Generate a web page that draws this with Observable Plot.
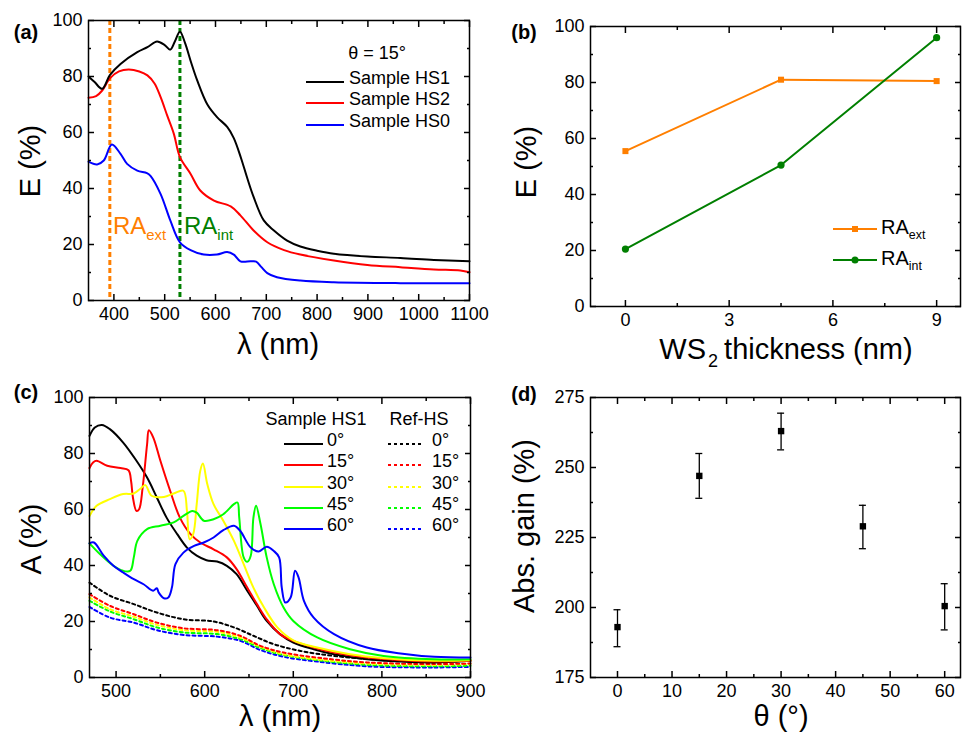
<!DOCTYPE html>
<html><head><meta charset="utf-8">
<script src="https://cdn.jsdelivr.net/npm/d3@7"></script>
<script src="https://cdn.jsdelivr.net/npm/@observablehq/plot@0.6"></script>
<style>
body{margin:0;background:#fff;}
#fig{position:relative;width:962px;height:734px;overflow:hidden;background:#fff;font-family:"Liberation Sans",Arial,Helvetica,sans-serif;color:#000;}
.panel{position:absolute;}
.panel svg{overflow:visible;display:block;}
.t{position:absolute;white-space:nowrap;line-height:1;}
.c{transform:translate(-50%,-50%);}
.r{transform:translate(-50%,-50%) rotate(-90deg);}
.l{transform:translate(0,-50%);}
.lab{font-weight:bold;font-size:20px;}
.ax{font-size:29px;}
.lg{font-size:18px;}
.sub{font-size:0.62em;position:relative;top:0.38em;}
.sw{position:absolute;}
</style></head><body>
<div id="fig"></div>
<script>
// ---------- DATA ----------
// Panel (a): E (%) vs wavelength (nm), theta = 15°
const aHS1 = [[350,80],[362,78],[377,75.6],[392,80.5],[413,84.5],[446,88.7],[466,90.5],[485,92.5],[500,91.2],[511,89.6],[520,92.5],[530,96],[540,92],[552,85],[564,78.6],[584,70],[603,65.5],[623,62],[636,58],[650,51],[662,44],[675,37],[695,28.6],[715,25],[741,21.4],[767,19.3],[800,17.8],[833,16.7],[899,15.7],[964,15.2],[1030,14.5],[1100,14]];
const aHS2 = [[350,72.4],[365,73],[377,75],[393,79.5],[410,81.8],[429,82.5],[450,81.8],[466,80.4],[480,77.5],[492,72.6],[505,66],[518,59.5],[530,51.2],[551,45.2],[570,39.3],[597,35.7],[630,33.6],[649,30.4],[675,25],[702,20.8],[735,18],[767,16.4],[833,14.3],[899,12.7],[964,11.9],[1030,11.1],[1082,10.7],[1100,10.1]];
const aHS0 = [[350,49.6],[367,48.6],[380,50],[396,55.7],[413,52.4],[426,48.8],[446,46.4],[465,45.5],[472,44.5],[492,38],[511,28.6],[530,20.8],[551,18],[577,16.4],[603,16.4],[623,17.3],[636,16.4],[649,14],[669,14],[680,13.9],[690,12],[702,9.8],[721,8.3],[767,7.1],[833,6.5],[964,6.2],[1100,6.2]];
const aNames = ["Sample HS1","Sample HS2","Sample HS0"];
const raSubs = ["ext", "int"];
const raWavelengths = [392, 530];

// Panel (b): E (%) vs WS2 thickness (nm)
const bThickness = [0, 4.5, 9];
const bRAext = [55.5, 81, 80.5];
const bRAint = [20.5, 50.5, 96];

// Panel (c): A (%) vs wavelength (nm)
const cAngles = ["0°","15°","30°","45°","60°"];
const c0 = [[470,86.3],[476,89.3],[484,90.2],[493,88.7],[508,83.9],[523,77.4],[535,71.4],[546,64.3],[557,57.1],[569,51.2],[580,46.4],[591,43.5],[602,41.9],[614,41.4],[625,39.9],[636,36.9],[648,31],[659,25.6],[670,20.2],[685,15.5],[700,12.5],[723,10.1],[746,8.3],[783,6.5],[821,5.7],[859,5.4],[900,6]];
const c15 = [[470,74.8],[474,76.8],[478,77.4],[490,75.6],[505,74.8],[514,74],[517,70],[519,64.3],[523,59.5],[526,60.1],[530,67.9],[535,83.3],[537,88.3],[542,85.7],[550,77.4],[561,66.7],[572,57.1],[584,51.2],[595,48.2],[610,45.8],[625,42.9],[636,38.7],[648,32.1],[659,26.2],[670,20.8],[685,15.5],[700,13.1],[723,10.7],[746,8.9],[783,7.1],[821,6.2],[859,5.7],[900,6]];
const c30 = [[470,57.7],[478,61.3],[493,63.7],[508,65.5],[520,65.7],[527,67.3],[533,68.7],[540,64.9],[554,64.5],[565,65.7],[576,66.7],[580,59.5],[583,49.4],[587,51.2],[591,61.9],[595,73.8],[598,76.4],[603,69],[610,61.9],[621,56],[633,48.8],[644,40.5],[655,32.1],[667,25],[682,17.9],[700,13.3],[727,10.7],[764,8.3],[802,6.9],[859,6],[900,6.2]];
const c45 = [[470,47.9],[482,44],[497,39.9],[508,38.1],[516,38.1],[520,42.9],[524,48.8],[535,53],[550,54.2],[565,55.4],[576,57.7],[586,59.5],[591,58.9],[599,56],[610,56.5],[621,58.3],[633,61.9],[637,62.5],[639,57.1],[644,42.9],[648,41.3],[652,43.5],[655,57.1],[658,61.3],[663,54.8],[670,42.9],[678,33.3],[689,25],[700,20.2],[727,14.3],[764,10.1],[802,7.7],[859,6.5],[900,6.5]];
const c60 = [[470,47.9],[475,48.2],[486,43.5],[497,39.9],[508,37.5],[520,35.1],[531,33.3],[542,31],[546,31.9],[548,30.4],[554,28.3],[559,28.6],[563,32.1],[567,40.5],[576,44.6],[588,47],[599,48.2],[610,50],[621,52.6],[633,54.2],[640,52.4],[652,46.4],[661,45],[670,46.7],[678,45.2],[684,42.9],[687,32.1],[691,26.8],[697,28.6],[702,38.1],[706,35.7],[712,27.4],[723,21.4],[746,15.5],[783,10.7],[821,8.6],[859,7.4],[900,7.1]];
const r0 = [[470,33.9],[493,29.2],[520,26.2],[546,23.2],[576,20.8],[610,20],[633,17.9],[655,14.9],[678,11.9],[708,9.5],[746,7.7],[802,6.2],[859,5.7],[900,6]];
const r15 = [[470,29.8],[493,25.6],[520,22.6],[546,19.6],[576,17.6],[614,16.9],[640,14.9],[663,11.3],[689,8.9],[727,7.1],[783,5.4],[859,4.8],[900,5]];
const r30 = [[470,28.6],[493,24.4],[520,21.7],[546,18.8],[576,16.9],[614,16.3],[640,14.3],[663,11],[689,8.3],[727,6.5],[783,5],[859,4.5],[900,4.8]];
const r45 = [[470,27.4],[493,23.6],[520,20.8],[546,17.9],[576,16.1],[614,15.5],[640,13.7],[663,10.5],[689,8],[727,6.2],[783,4.5],[859,4],[900,4.2]];
const r60 = [[470,25.2],[493,21.4],[520,19.6],[546,16.9],[576,15.2],[614,14.6],[640,13.1],[663,9.8],[689,7.4],[727,5.7],[783,4],[859,3.6],[900,3.8]];

// Panel (d): Abs. gain (%) vs theta (°)
const dTheta = [0, 15, 30, 45, 60];
const dGain = [193, 247, 263, 229, 200.5];
const dLow = [186, 239, 256.3, 221, 192];
const dHigh = [199.2, 255, 269.4, 236.5, 208.5];

// ---------- STYLE ----------
const FONT = '"Liberation Sans", Arial, Helvetica, sans-serif';
const aColors = ["#000000", "#ff0000", "#0000ff"];
const raColors = ["#ff7f00", "#007f00"];
const cColors = ["#000000", "#ff0000", "#ffff00", "#00ff00", "#0000ff"];

const fig = document.getElementById("fig");
const range = (a, b, s) => d3.range(a, b + s / 2, s);

function frameAxes(xMaj, xMin, yMaj, yMin) {
  const s = {strokeWidth: 1.5, label: null};
  const blank = () => "";
  const fmt = d => `${d}`;
  return [
    Plot.axisX(xMaj, {...s, anchor: "bottom", tickSize: -6, tickPadding: 13, tickFormat: fmt}),
    Plot.axisX(xMin, {...s, anchor: "bottom", tickSize: -3, tickFormat: blank}),
    Plot.axisX(xMaj, {...s, anchor: "top", tickSize: -6, tickFormat: blank}),
    Plot.axisX(xMin, {...s, anchor: "top", tickSize: -3, tickFormat: blank}),
    Plot.axisY(yMaj, {...s, anchor: "left", tickSize: -6, tickPadding: 12, tickFormat: fmt}),
    Plot.axisY(yMin, {...s, anchor: "left", tickSize: -3, tickFormat: blank}),
    Plot.axisY(yMaj, {...s, anchor: "right", tickSize: -6, tickFormat: blank}),
    Plot.axisY(yMin, {...s, anchor: "right", tickSize: -3, tickFormat: blank}),
    Plot.frame({strokeWidth: 1.5})
  ];
}

function addPanel(left, top, opts) {
  const div = document.createElement("div");
  div.className = "panel";
  div.style.left = left + "px";
  div.style.top = top + "px";
  const svg = Plot.plot({
    ...opts,
    style: {fontSize: "18px", fontFamily: FONT, overflow: "visible", background: "transparent", color: "#000"}
  });
  div.appendChild(svg);
  fig.appendChild(div);
}

function text(html, x, y, cls, style = "") {
  const d = document.createElement("div");
  d.className = "t " + cls;
  d.style.cssText = `left:${x}px;top:${y}px;${style}`;
  d.innerHTML = html;
  fig.appendChild(d);
}

function swatch(x1, x2, y, color, dash, marker) {
  const w = x2 - x1;
  let m = "";
  if (marker === "square") m = `<rect x="${w/2-3}" y="2" width="6" height="6" fill="${color}"/>`;
  if (marker === "circle") m = `<circle cx="${w/2}" cy="5" r="3.5" fill="${color}"/>`;
  const d = document.createElement("div");
  d.className = "sw";
  d.style.cssText = `left:${x1}px;top:${y-5}px;`;
  d.innerHTML = `<svg width="${w}" height="10"><line x1="0" y1="5" x2="${w}" y2="5" stroke="${color}" stroke-width="2" ${dash ? `stroke-dasharray="${dash}"` : ""}/>${m}</svg>`;
  fig.appendChild(d);
}

const px = d => d[0], py = d => d[1];

// ---------- PANEL (a) ----------
addPanel(0, 0, {
  width: 480, height: 340,
  marginLeft: 88, marginRight: 11, marginTop: 20, marginBottom: 40,
  x: {domain: [350, 1100]},
  y: {domain: [0, 100]},
  marks: [
    Plot.ruleX(raWavelengths, {stroke: (d, i) => raColors[i], strokeWidth: 3, strokeDasharray: "5,3"}),
    Plot.line(aHS0, {x: px, y: py, stroke: aColors[2], strokeWidth: 2, curve: "catmull-rom"}),
    Plot.line(aHS2, {x: px, y: py, stroke: aColors[1], strokeWidth: 2, curve: "catmull-rom"}),
    Plot.line(aHS1, {x: px, y: py, stroke: aColors[0], strokeWidth: 2, curve: "catmull-rom"}),
    ...frameAxes(range(400, 1100, 100), range(450, 1050, 100), range(0, 100, 20), range(10, 90, 20))
  ]
});

// ---------- PANEL (b) ----------
const bRows = bThickness.map((t, i) => ({t, ext: bRAext[i], int: bRAint[i]}));
addPanel(480, 0, {
  width: 482, height: 370,
  marginLeft: 110, marginRight: 2, marginTop: 26, marginBottom: 64,
  x: {domain: [-1.01, 9.69]},
  y: {domain: [0, 100]},
  marks: [
    Plot.line(bRows, {x: "t", y: "ext", stroke: raColors[0], strokeWidth: 2}),
    Plot.dot(bRows, {x: "t", y: "ext", symbol: "square", r: 3.4, fill: raColors[0], stroke: null}),
    Plot.line(bRows, {x: "t", y: "int", stroke: raColors[1], strokeWidth: 2}),
    Plot.dot(bRows, {x: "t", y: "int", symbol: "circle", r: 3.6, fill: raColors[1], stroke: null}),
    ...frameAxes([0, 3, 6, 9], [1.5, 4.5, 7.5], range(0, 100, 20), range(10, 90, 20))
  ]
});

// ---------- PANEL (c) ----------
const cSolid = [c0, c15, c30, c45, c60];
const cRef = [r0, r15, r30, r45, r60];
addPanel(0, 370, {
  width: 480, height: 364,
  marginLeft: 89, marginRight: 10, marginTop: 27, marginBottom: 57,
  x: {domain: [470, 900]},
  y: {domain: [0, 100]},
  marks: [
    ...cRef.map((s, i) => Plot.line(s, {x: px, y: py, stroke: cColors[i], strokeWidth: 2, strokeDasharray: "3,3", curve: "catmull-rom"})).reverse(),
    ...cSolid.map((s, i) => Plot.line(s, {x: px, y: py, stroke: cColors[i], strokeWidth: 2, curve: "catmull-rom"})),
    ...frameAxes(range(500, 900, 100), range(550, 850, 100), range(0, 100, 20), range(10, 90, 20))
  ]
});

// ---------- PANEL (d) ----------
const dRows = dTheta.map((t, i) => ({t, g: dGain[i], lo: dLow[i], hi: dHigh[i]}));
addPanel(480, 370, {
  width: 482, height: 364,
  marginLeft: 110, marginRight: 2, marginTop: 27, marginBottom: 57,
  x: {domain: [-4.95, 62.9]},
  y: {domain: [175, 275]},
  marks: [
    Plot.ruleX(dRows, {x: "t", y1: "lo", y2: "hi", strokeWidth: 1.3}),
    Plot.ruleY(dRows, {y: "lo", x1: "t", x2: "t", insetLeft: -3.5, insetRight: -3.5, strokeWidth: 1.3}),
    Plot.ruleY(dRows, {y: "hi", x1: "t", x2: "t", insetLeft: -3.5, insetRight: -3.5, strokeWidth: 1.3}),
    Plot.dot(dRows, {x: "t", y: "g", symbol: "square", r: 3.6, fill: "#000", stroke: null}),
    ...frameAxes(range(0, 60, 10), range(5, 55, 10), range(175, 275, 25), [187.5, 212.5, 237.5, 262.5])
  ]
});

// ---------- TEXT / LEGENDS ----------
text("(a)", 26, 32, "c lab");
text("(b)", 524, 32, "c lab");
text("(c)", 26, 392, "c lab");
text("(d)", 524, 394, "c lab");

text("E (%)", 30, 161, "r ax");
text("λ (nm)", 278, 344, "c ax");
text("E (%)", 526, 162, "r ax");
text('WS<span class="sub" style="top:0.42em;margin:0 6px 0 2px">2</span>thickness (nm)', 786, 349, "c ax");
text("A (%)", 31, 539, "r ax");
text("λ (nm)", 280, 716, "c ax");
text("Abs. gain (%)", 524, 526, "r ax");
text("θ (°)", 781, 716, "c ax");

// panel (a) legend
text("θ = 15°", 377, 53, "c lg");
[78, 99, 121].forEach((y, i) => {
  swatch(306, 344, y, aColors[i], null, null);
  text(aNames[i], 349, y, "l lg");
});
// RA labels in panel (a)
text(`RA<span class="sub">${raSubs[0]}</span>`, 113, 226, "l", `font-size:24px;color:${raColors[0]}`);
text(`RA<span class="sub">${raSubs[1]}</span>`, 184, 226, "l", `font-size:24px;color:${raColors[1]}`);

// panel (b) legend
swatch(833, 877, 225, raColors[0], null, "square");
text(`RA<span class="sub">${raSubs[0]}</span>`, 881, 227, "l", "font-size:20px");
swatch(833, 877, 256, raColors[1], null, "circle");
text(`RA<span class="sub">${raSubs[1]}</span>`, 881, 258, "l", "font-size:20px");

// panel (c) legend
text("Sample HS1", 316, 419, "c lg");
text("Ref-HS", 419, 419, "c lg");
[440, 461, 483, 504, 525].forEach((y, i) => {
  swatch(284, 323, y, cColors[i], null, null);
  text(cAngles[i], 327, y, "l lg");
  swatch(388, 423, y, cColors[i], "3,3", null);
  text(cAngles[i], 432, y, "l lg");
});
</script>
</body></html>
